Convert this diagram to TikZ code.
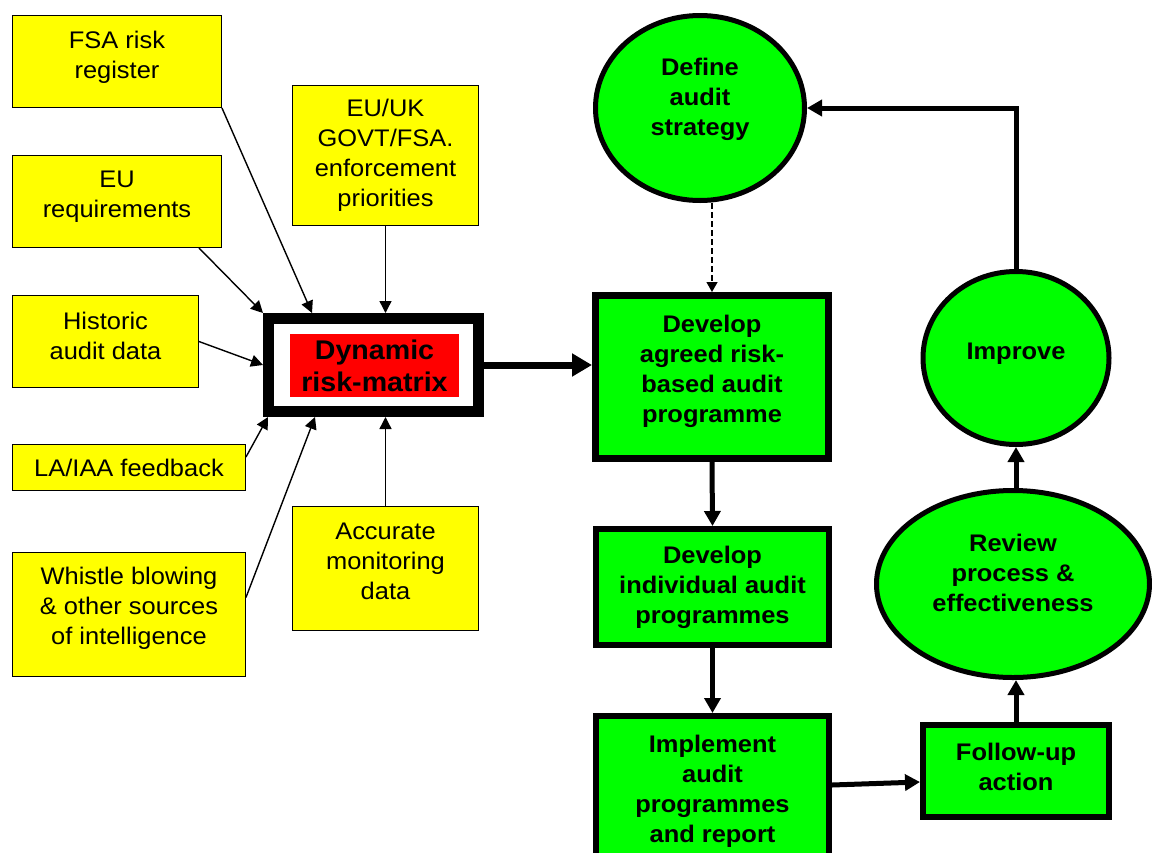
\documentclass[tikz,border=0pt]{standalone}
\usepackage{fontspec}
\setmainfont{Liberation Sans}[FakeStretch=1.06]
\usetikzlibrary{arrows.meta,shapes.geometric,calc}
\definecolor{yel}{RGB}{255,255,0}
\definecolor{grn}{RGB}{0,255,0}
\definecolor{rd}{RGB}{255,0,0}
\begin{document}
\begin{tikzpicture}[x=1pt,y=-1pt,
 ybox/.style={draw=black, line width=1.4pt, fill=yel, inner sep=0pt},
 ytxt/.style={font=\fontsize{24}{30}\selectfont, align=center, inner sep=0pt},
 gtxt/.style={font=\fontsize{24}{30}\selectfont\bfseries, align=center, inner sep=0pt},
 gbox/.style={draw=black, line width=6pt, fill=grn, inner sep=0pt},
 gell/.style={ellipse, draw=black, line width=5pt, fill=grn, inner sep=0pt},
 inarrow/.style={line width=1.4pt, -{Triangle[length=12pt,width=12pt]}},
 flow/.style={line width=5pt, -{Triangle[length=15pt,width=16pt]}},
 bigarrow/.style={line width=7pt, -{Triangle[length=20pt,width=22pt]}},
 dsh/.style={line width=1.3pt, dash pattern=on 6pt off 3pt, -{Triangle[length=10pt,width=11pt]}},
]
\useasboundingbox (0,0) rectangle (1152,852);

% yellow input boxes
\node[ybox, minimum width=208.5pt, minimum height=91.5pt] (fsa) at (117,61.5) {};
\node[ytxt] (fsaT) at (117,57) {FSA risk\\register};
\node[ybox, minimum width=208.5pt, minimum height=91.5pt] (eureq) at (117,201.5) {};
\node[ytxt] (eureqT) at (117,197) {EU\\requirements};
\node[ybox, minimum width=185.5pt, minimum height=139.5pt] (gov) at (385.5,155.5) {};
\node[ytxt] (govT) at (385.5,155.5) {EU/UK\\GOVT/FSA.\\enforcement\\priorities};
\node[ybox, minimum width=185.5pt, minimum height=91.5pt] (hist) at (105.5,341.5) {};
\node[ytxt] (histT) at (105.5,336) {Historic\\audit data};
\node[ybox, minimum width=232.5pt, minimum height=45.5pt] (la) at (129,467.5) {};
\node[ytxt] (laT) at (129,468) {LA/IAA feedback};
\node[ybox, minimum width=232.5pt, minimum height=123.5pt] (wh) at (129,614.5) {};
\node[ytxt] (whT) at (129,608) {Whistle blowing\\\& other sources\\of intelligence};
\node[ybox, minimum width=185.5pt, minimum height=123.5pt] (acc) at (385.5,568.5) {};
\node[ytxt] (accT) at (385.5,561) {Accurate\\monitoring\\data};

% dynamic risk matrix
\node[draw=black, line width=11pt, fill=white, inner sep=0pt, minimum width=210pt, minimum height=93pt] (rm) at (373.5,365) {};
\node[fill=rd, inner sep=0pt, minimum width=169pt, minimum height=63pt] (rmr) at (374.5,365.5) {};
\node[font=\fontsize{27}{32}\selectfont\bfseries, align=center, inner sep=0pt] (rmT) at (374.5,366) {Dynamic\\risk-matrix};

% green process shapes
\node[gbox, line width=7pt, minimum width=233pt, minimum height=163pt] (dev) at (712,377) {};
\node[gtxt] (devT) at (712,371) {Develop\\agreed risk-\\based audit\\programme};
\node[gbox, minimum width=233pt, minimum height=116pt] (ind) at (712.5,587) {};
\node[gtxt] (indT) at (712.5,587) {Develop\\individual audit\\programmes};
\node[gbox, minimum width=233pt, minimum height=169pt] (imp) at (712.5,800.5) {};
\node[gtxt] (impT) at (712.5,791) {Implement\\audit\\programmes\\and report};
\node[gbox, minimum width=186pt, minimum height=92pt] (fol) at (1016,771) {};
\node[gtxt] (folT) at (1016,767) {Follow-up\\action};
\node[gell, minimum width=209pt, minimum height=185pt] (def) at (700,108) {};
\node[gtxt] (defT) at (700,99) {Define\\audit\\strategy};
\node[gell, minimum width=186pt, minimum height=173pt] (impv) at (1016,358) {};
\node[gtxt] (impvT) at (1016,354) {Improve};
\node[gell, minimum width=273pt, minimum height=187pt] (rev) at (1013,584) {};
\node[gtxt] (revT) at (1013,573) {Review\\process \&\\effectiveness};

% input connectors
\draw[inarrow] (fsa.south east) -- ($(rm.north west)+(49,0)$);
\draw[inarrow] ($(eureq.south east)+(-23,0)$) -- (rm.north west);
\draw[inarrow] (gov.south) -- (gov.south |- rm.north);
\draw[inarrow] (hist.east) -- (rm.west);
\draw[inarrow] ($(la.north east)+(0,13)$) -- ($(rm.south west)+(5,0)$);
\draw[inarrow] ($(wh.east)+(0,-17)$) -- ($(rm.south west)+(52,0)$);
\draw[inarrow] (acc.north) -- (acc.north |- rm.south);

% process connectors
\draw[bigarrow] (rm.east) -- (rm.east -| dev.west);
\draw[dsh] (def.south -| dev.north) -- (dev.north);
\draw[flow] (dev.south) -- (ind.north);
\draw[flow] (ind.south) -- (imp.north);
\draw[flow] ($(imp.north east)+(0,72)$) -- ($(fol.west)+(0,11)$);
\draw[flow] (fol.north) -- (fol.north |- rev.south);
\draw[flow] (impv.south |- rev.north) -- (impv.south);
\draw[flow] (impv.north) |- (def.east);
\end{tikzpicture}
\end{document}
